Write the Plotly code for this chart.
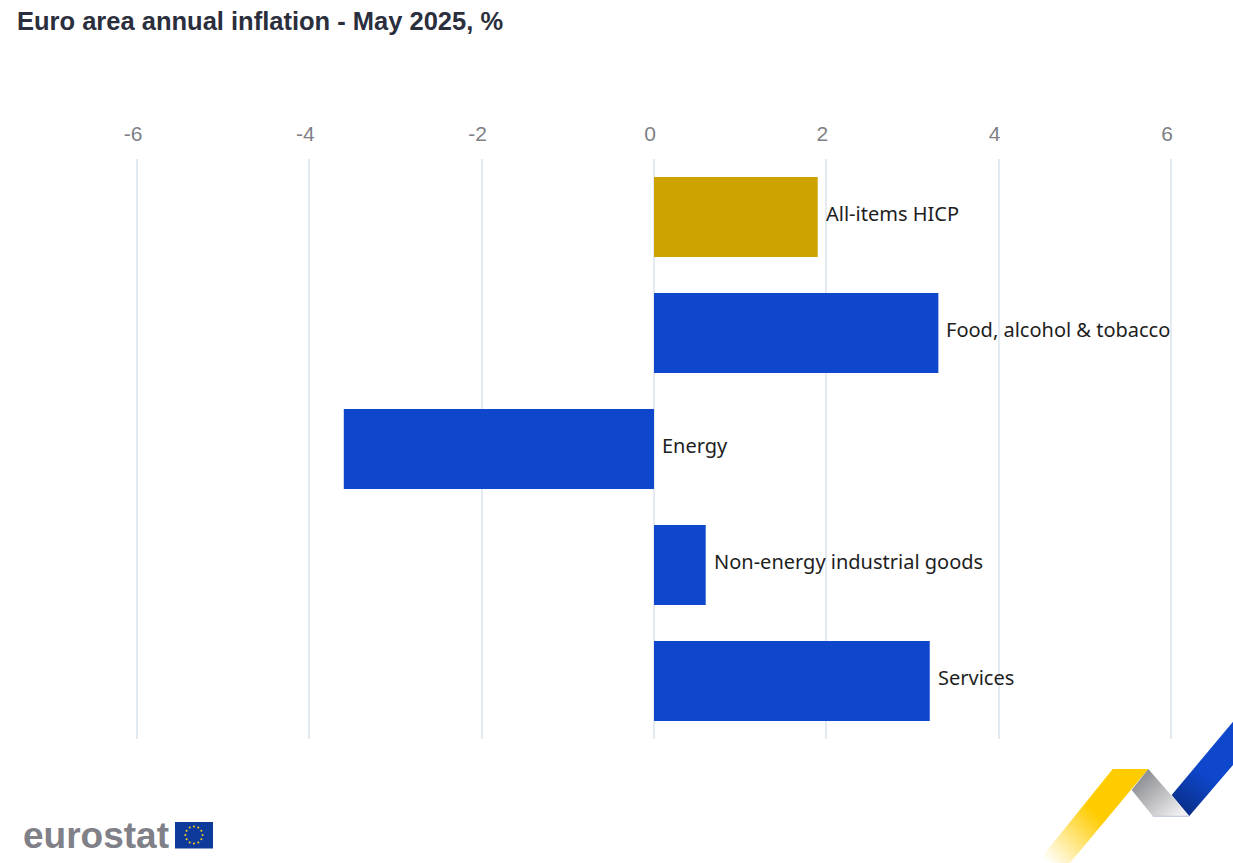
import base64
import math
import plotly.graph_objects as go

title = "Euro area annual inflation - May 2025, %"
categories = ["All-items HICP", "Food, alcohol & tobacco", "Energy",
              "Non-energy industrial goods", "Services"]
values = [1.9, 3.3, -3.6, 0.6, 3.2]
bar_colors = ["#CCA300", "#0E47CB", "#0E47CB", "#0E47CB", "#0E47CB"]
tick_values = [-6, -4, -2, 0, 2, 4, 6]

W, H = 1233, 863
L, R, T, B = 135, 60, 159, 124
PW, PH = W - L - R, H - T - B

stars = "".join(
    '<circle cx="%.1f" cy="%.1f" r="1" fill="#FFD617"/>' % (
        194 + 8.6 * math.cos(i * math.pi / 6),
        835 + 8.6 * math.sin(i * math.pi / 6))
    for i in range(12))

svg = f'''<svg xmlns="http://www.w3.org/2000/svg" width="{W}" height="{H}" viewBox="0 0 {W} {H}">
<defs>
<linearGradient id="y" gradientUnits="userSpaceOnUse" x1="1125" y1="790" x2="1050" y2="865">
<stop offset="0" stop-color="#FFCC00"/><stop offset="0.35" stop-color="#FFCC00"/><stop offset="1" stop-color="#FFCC00" stop-opacity="0"/></linearGradient>
<linearGradient id="g" gradientUnits="userSpaceOnUse" x1="1140" y1="778" x2="1175" y2="818">
<stop offset="0" stop-color="#8E8F94"/><stop offset="1" stop-color="#EFEFF1"/></linearGradient>
<linearGradient id="b" gradientUnits="userSpaceOnUse" x1="1225" y1="745" x2="1180" y2="808">
<stop offset="0" stop-color="#0E47CB"/><stop offset="0.45" stop-color="#0E47CB"/><stop offset="1" stop-color="#0A2F8C"/></linearGradient>
</defs>
<polygon points="1112.7,769 1148.3,769 1070,863 1037,863" fill="url(#y)"/>
<polygon points="1148.3,769 1189.3,816 1152.7,816 1131.7,790" fill="url(#g)"/>
<line x1="1152.7" y1="816.3" x2="1189.3" y2="816.3" stroke="#A9B3CF" stroke-width="0.8"/>
<polygon points="1233,721.7 1233,765 1189.3,816 1171.7,795" fill="url(#b)"/>
<rect x="175" y="822" width="38" height="26.5" fill="#0E3A9C"/>
{stars}
</svg>'''
svg_uri = "data:image/svg+xml;base64," + base64.b64encode(svg.encode()).decode()

fig = go.Figure(go.Bar(
    y=categories, x=values, orientation="h",
    marker=dict(color=bar_colors, line=dict(width=0)),
    showlegend=False, hoverinfo="x+y",
))

annotations = [
    dict(x=max(v, 0), y=c, xref="x", yref="y", text=c, showarrow=False,
         xanchor="left", yanchor="middle", xshift=6, yshift=4, align="left",
         font=dict(family="Noto Sans", size=20, color="#1E1E1E"))
    for c, v in zip(categories, values)
]
annotations.append(dict(
    x=(21 - L) / PW, y=1 - (835 - T) / PH, xref="paper", yref="paper",
    text="<b>eurostat</b>", showarrow=False, xanchor="left", yanchor="middle",
    font=dict(family="Liberation Sans", size=37, color="#7F8088")))

fig.update_layout(
    width=W, height=H, autosize=False,
    margin=dict(l=L, r=R, t=T, b=B, pad=0),
    paper_bgcolor="white", plot_bgcolor="white",
    bargap=0.31,
    title=dict(text="<b>" + title + "</b>", x=17 / W, xref="container", xanchor="left",
               y=1 - 21 / H, yref="container", yanchor="middle",
               font=dict(family="Liberation Sans", size=25.5, color="#2B2F3D")),
    xaxis=dict(range=[-6.023, 6.023], side="top", tickmode="array", tickvals=tick_values,
               ticktext=[str(v) for v in tick_values],
               showgrid=True, gridcolor="#E4EAF2", gridwidth=1.5,
               zeroline=True, zerolinecolor="#E4EAF2", zerolinewidth=1.5,
               showline=False, ticks="", ticklabelshift=-4, ticklabelstandoff=13,
               tickfont=dict(family="Liberation Sans", size=21, color="#7F7F86")),
    yaxis=dict(autorange=False, range=[4.5, -0.5], type="category",
               categoryorder="array", categoryarray=categories,
               showticklabels=False, showgrid=False, zeroline=False, showline=False, ticks=""),
    annotations=annotations,
    images=[dict(source=svg_uri, xref="paper", yref="paper",
                 x=-L / PW, y=1 + T / PH, sizex=W / PW, sizey=H / PH,
                 xanchor="left", yanchor="top", sizing="stretch", layer="below")],
)

fig.write_html("out.html", config={"displayModeBar": False},
               post_script="document.body.style.margin='0';")
